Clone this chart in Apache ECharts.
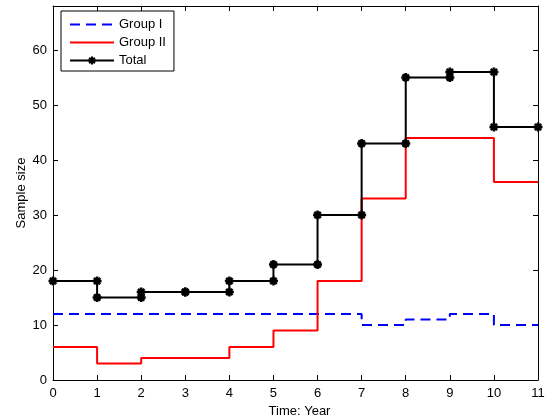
<!DOCTYPE html>
<html>
<head>
<meta charset="utf-8">
<script src="https://cdn.jsdelivr.net/npm/echarts@6/dist/echarts.min.js"></script>
<style>html,body{margin:0;padding:0;background:#fff}#c{width:552px;height:419px}</style>
</head>
<body>
<div id="c"></div>
<script>
// Year boundaries (stairs x positions)
var years = [0,1,2,3,4,5,6,7,8,9,10,11];
// Stair values per year (last value repeats to close the final step)
var groupI  = [12,12,12,12,12,12,12,10,11,12,10,10];
var groupII = [6,3,4,4,6,9,18,33,44,44,36,36];
var total   = [18,15,16,16,18,21,30,43,55,56,46,46];
var seriesNames = ['Group I','Group II','Total'];
var xTicks = {min:0, max:11, interval:1};
var yTicks = {min:0, max:68, interval:10};

function pts(vals){ return years.map(function(x,i){ return [x, vals[i]]; }); }
// expand stairs into corner vertices (markers at each corner like MATLAB stairs)
function corners(vals){
  var out = [];
  for (var i = 0; i < years.length; i++) {
    if (i > 0) out.push([years[i], vals[i-1]]);
    if (i < years.length - 1 || vals[i] !== vals[i-1]) out.push([years[i], vals[i]]);
  }
  return out;
}
var star = 'path://M0,-10L0,10M-10,0L10,0M-7,-7L7,7M-7,7L7,-7';
var font = 'Liberation Sans, Arial, Helvetica, sans-serif';

var chart = echarts.init(document.getElementById('c'), null, {renderer:'canvas'});
var axisLine = {show:true, onZero:false, lineStyle:{color:'#000', width:1}};
var tick = {show:true, inside:true, length:5, lineStyle:{color:'#000', width:1}};
chart.setOption({
  animation:false,
  backgroundColor:'#fff',
  grid:{left:53, right:14, top:6, bottom:39, containLabel:false, outerBoundsMode:'none'},
  legend:{
    left:61, top:11, orient:'vertical',
    data:[
      {name:'Group I', itemStyle:{opacity:0}},
      {name:'Group II', itemStyle:{opacity:0}},
      {name:'Total'}
    ],
    itemWidth:44, itemHeight:10, itemGap:5,
    padding:[7,8,4,8],
    borderColor:'#000', borderWidth:1, backgroundColor:'#fff',
    textStyle:{fontFamily:font, fontSize:13, color:'#000', padding:[0,0,0,0]}
  },
  xAxis:[
    {type:'value', min:xTicks.min, max:xTicks.max, interval:xTicks.interval, position:'bottom',
     axisLine:axisLine, axisTick:tick, splitLine:{show:false},
     axisLabel:{color:'#000', fontFamily:font, fontSize:13, margin:7},
     name:'Time: Year', nameLocation:'middle', nameGap:25,
     nameTextStyle:{color:'#000', fontFamily:font, fontSize:13, padding:[0,0,0,8]}},
    {type:'value', min:xTicks.min, max:xTicks.max, interval:xTicks.interval, position:'top',
     axisLine:axisLine, axisTick:tick, splitLine:{show:false}, axisLabel:{show:false}}
  ],
  yAxis:[
    {type:'value', min:yTicks.min, max:yTicks.max, interval:yTicks.interval, position:'left',
     axisLine:axisLine, axisTick:tick, splitLine:{show:false},
     axisLabel:{color:'#000', fontFamily:font, fontSize:13, margin:6,
       formatter:function(v){ return v > 60 ? '' : v; }},
     name:'Sample size', nameLocation:'middle', nameGap:25, nameMoveOverlap:false,
     nameTextStyle:{color:'#000', fontFamily:font, fontSize:13}},
    {type:'value', min:yTicks.min, max:yTicks.max, interval:yTicks.interval, position:'right',
     axisLine:axisLine, axisTick:tick, splitLine:{show:false}, axisLabel:{show:false}}
  ],
  series:[
    {name:seriesNames[0], type:'line', step:'end', data:pts(groupI), symbol:'none',
     itemStyle:{color:'#0000ff'},
     lineStyle:{color:'#0000ff', width:2, type:[10,6]}},
    {name:seriesNames[1], type:'line', step:'end', data:pts(groupII), symbol:'none',
     itemStyle:{color:'#ff0000'},
     lineStyle:{color:'#ff0000', width:2}},
    {name:seriesNames[2], type:'line', data:corners(total), symbol:star, symbolSize:9,
     showAllSymbol:true,
     itemStyle:{color:'#000', borderColor:'#000', borderWidth:2.5},
     lineStyle:{color:'#000', width:2}, z:3}
  ]
});
</script>
</body>
</html>
